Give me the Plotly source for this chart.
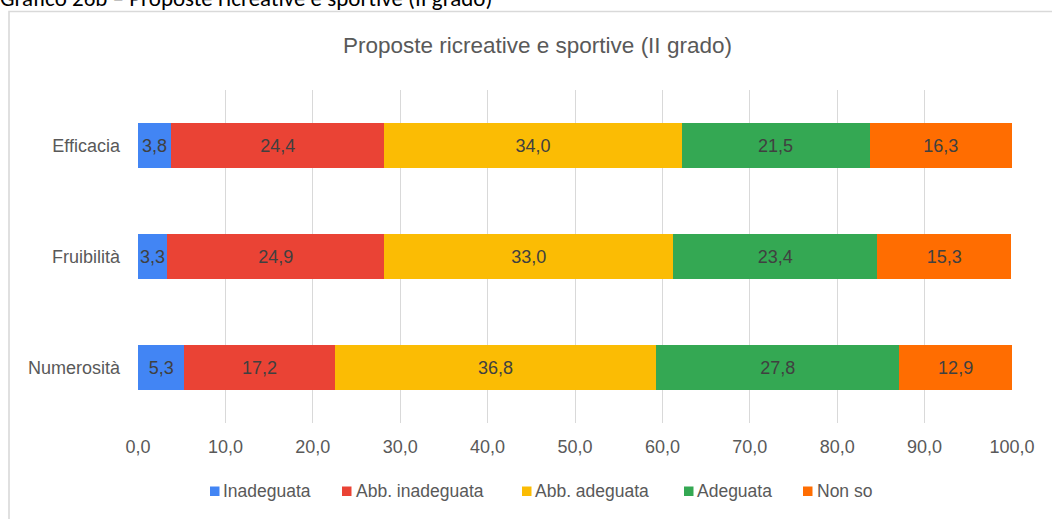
import plotly.graph_objects as go

categories = ["Efficacia", "Fruibilità", "Numerosità"]
series_names = ["Inadeguata", "Abb. inadeguata", "Abb. adeguata", "Adeguata", "Non so"]
inadeguata = [3.8, 3.3, 5.3]
abb_inadeguata = [24.4, 24.9, 17.2]
abb_adeguata = [34.0, 33.0, 36.8]
adeguata = [21.5, 23.4, 27.8]
non_so = [16.3, 15.3, 12.9]
x_ticks = [0, 10, 20, 30, 40, 50, 60, 70, 80, 90, 100]

colors = ["#4285F4", "#EA4335", "#FBBC04", "#34A853", "#FF6D01"]
values = [inadeguata, abb_inadeguata, abb_adeguata, adeguata, non_so]

W, H = 1052, 519
L, R, T, B = 138, 40, 90, 96
pw, ph = W - L - R, H - T - B
FONT = "Liberation Sans, Arial, sans-serif"


def px_x(p):
    return (p - L) / pw


def px_y(p):
    return (H - B - p) / ph


fig = go.Figure()
for name, vals, col in zip(series_names, values, colors):
    fig.add_trace(go.Bar(
        y=categories, x=vals, name=name, orientation="h",
        marker=dict(color=col, line=dict(width=0)),
        texttemplate="%{x:.1f}", textposition="inside", textangle=0,
        insidetextanchor="middle", constraintext="none",
        textfont=dict(family=FONT, size=18, color="#404040"),
        hoverinfo="skip", showlegend=False,
    ))

fig.update_layout(
    barmode="stack", bargap=0.6,
    width=W, height=H,
    margin=dict(l=L, r=R, t=T, b=B, autoexpand=False),
    paper_bgcolor="white", plot_bgcolor="white",
    separators=",.",
    uniformtext=dict(minsize=18, mode="show"),
    font=dict(family=FONT, color="#595959", size=18),
    xaxis=dict(range=[0, 100], tickvals=x_ticks, tickformat=".1f",
               showgrid=True, gridcolor="#d9d9d9", gridwidth=1.4,
               zeroline=False, showline=False, ticks="",
               ticklabelstandoff=11, fixedrange=True,
               tickfont=dict(family=FONT, size=18, color="#595959")),
    yaxis=dict(autorange="reversed", showgrid=False, showline=False,
               ticks="", ticklabelstandoff=17, fixedrange=True,
               tickfont=dict(family=FONT, size=18, color="#595959")),
    showlegend=False,
)

# chart title
fig.add_annotation(text="Proposte ricreative e sportive (II grado)",
                   xref="paper", yref="paper", x=px_x(537), y=px_y(45),
                   xanchor="center", yanchor="middle", showarrow=False,
                   font=dict(family=FONT, size=22.5, color="#595959"))

# document caption, cut off at the top edge
fig.add_annotation(text="Grafico 26b – Proposte ricreative e sportive (II grado)",
                   xref="paper", yref="paper", x=px_x(-2), y=px_y(-2),
                   xanchor="left", yanchor="middle", showarrow=False,
                   font=dict(family="Carlito, Calibri, Noto Sans, sans-serif", size=23, color="#000000"))

# legend (Google-Sheets style small squares)
sq_left = [210, 342, 522, 684, 803]
txt_left = [223, 356, 535, 697, 817]
for name, col, sx, tx in zip(series_names, colors, sq_left, txt_left):
    fig.add_shape(type="rect", xref="paper", yref="paper",
                  x0=px_x(sx), x1=px_x(sx + 9.5), y0=px_y(496), y1=px_y(486.5),
                  fillcolor=col, line=dict(width=0))
    fig.add_annotation(text=name, xref="paper", yref="paper",
                       x=px_x(tx - 2), y=px_y(491), xanchor="left", yanchor="middle",
                       showarrow=False,
                       font=dict(family=FONT, size=17.5, color="#595959"))

# chart border (top and left visible)
fig.add_shape(type="rect", xref="paper", yref="paper",
              x0=px_x(9), x1=px_x(1060), y0=px_y(530), y1=px_y(11.5),
              line=dict(color="#d9d9d9", width=1.6), layer="below")

fig.write_html("out.html", config={"displayModeBar": False},
               post_script="document.body.style.margin='0';")
